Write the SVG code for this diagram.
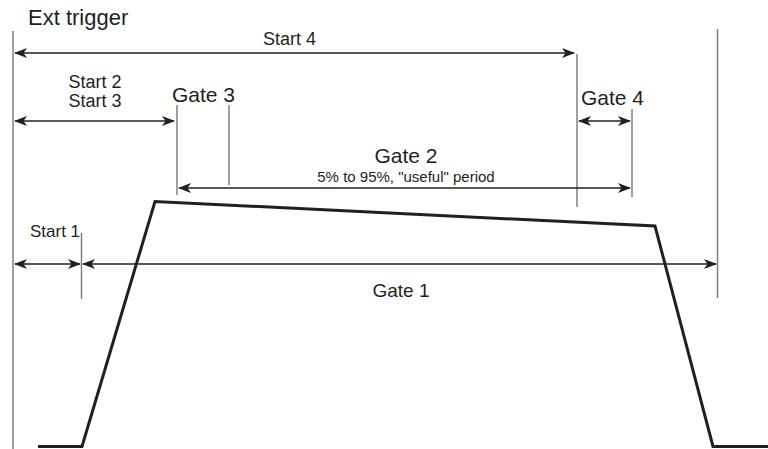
<svg xmlns="http://www.w3.org/2000/svg" width="768" height="449" viewBox="0 0 768 449">
<style>
text{font-family:"Liberation Sans",Arial,sans-serif;fill:#231f20}
.g{stroke:#808080;stroke-width:1.5;fill:none}
.a{stroke:#231f20;stroke-width:1.7;fill:none;marker-start:url(#ah);marker-end:url(#ah)}
.p{stroke:#231f20;stroke-width:3;fill:none;stroke-linejoin:miter}
</style>
<defs>
<marker id="ah" markerUnits="userSpaceOnUse" markerWidth="13" markerHeight="10" refX="12" refY="5" orient="auto-start-reverse" viewBox="0 0 13 10">
<path d="M0,0 L13,5 L0,10 L3.5,5 z" fill="#231f20"/>
</marker>
</defs>
<rect width="768" height="449" fill="#fff"/>
<g id="guides">
<line class="g" x1="13" y1="31" x2="13" y2="449"/>
<line class="g" x1="717.5" y1="29" x2="717.5" y2="298"/>
<line class="g" x1="577" y1="54" x2="577" y2="207"/>
<line class="g" x1="177" y1="105" x2="177" y2="195"/>
<line class="g" x1="229" y1="105" x2="229" y2="185"/>
<line class="g" x1="632" y1="109" x2="632" y2="197"/>
<line class="g" x1="81.5" y1="233" x2="81.5" y2="299"/>
</g>
<g id="connectors">
<line class="a" x1="15" y1="53" x2="574" y2="53"/>
<line class="a" x1="15" y1="121" x2="174" y2="121"/>
<line class="a" x1="579" y1="121" x2="630" y2="121"/>
<line class="a" x1="179" y1="188" x2="630" y2="188"/>
<line class="a" x1="15" y1="264" x2="80" y2="264"/>
<line class="a" x1="83" y1="264" x2="716" y2="264"/>
</g>
<g id="pulse">
<polyline class="p" points="38,446.5 82,446.5 155,201.5 655,226 713,446.5 768,446.5"/>
</g>
<g id="ext-trigger"><text x="28" y="25" font-size="22">Ext trigger</text></g>
<g id="start4"><text x="289.5" y="45" font-size="18" text-anchor="middle">Start 4</text></g>
<g id="start23"><text x="95" y="88" font-size="18" text-anchor="middle">Start 2</text><text x="95" y="107" font-size="18" text-anchor="middle">Start 3</text></g>
<g id="gate3"><text x="172" y="102" font-size="21">Gate 3</text></g>
<g id="gate4"><text x="581" y="105" font-size="21">Gate 4</text></g>
<g id="gate2"><text x="406" y="163" font-size="21" text-anchor="middle">Gate 2</text><text x="406" y="182" font-size="15" text-anchor="middle">5% to 95%, "useful" period</text></g>
<g id="start1"><text x="30" y="237" font-size="17">Start 1</text></g>
<g id="gate1"><text x="401" y="297" font-size="19" text-anchor="middle">Gate 1</text></g>
</svg>
